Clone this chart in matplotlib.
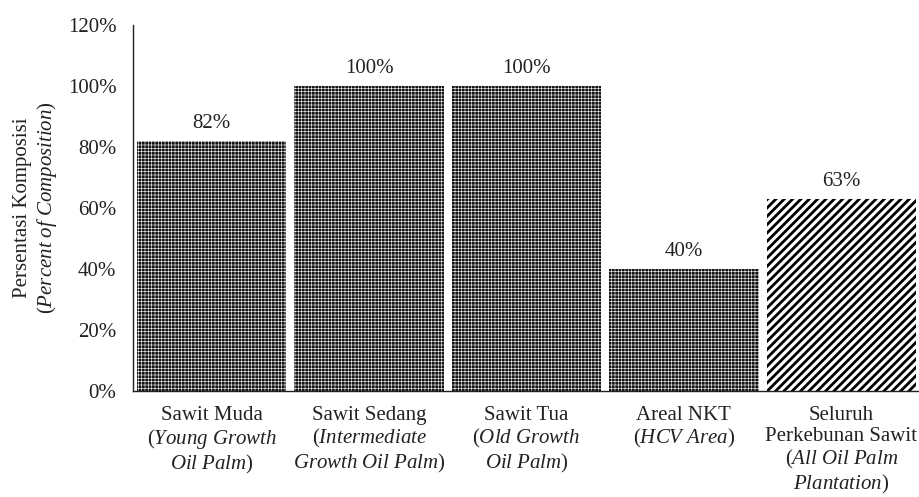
import matplotlib
matplotlib.use("Agg")
import matplotlib.pyplot as plt
from matplotlib.ticker import FuncFormatter

# ---------- Config ----------
plt.rcParams["font.family"] = ["Liberation Serif", "DejaVu Serif"]
plt.rcParams["font.size"] = 15
plt.rcParams["mathtext.fontset"] = "custom"
plt.rcParams["mathtext.rm"] = "Liberation Serif"
plt.rcParams["mathtext.it"] = "Liberation Serif:italic"
plt.rcParams["hatch.linewidth"] = 0.4

# ---------- Data ----------
categories = [
    "Sawit Muda\n($\\mathit{Young\\ Growth}$\n$\\mathit{Oil\\ Palm}$)",
    "Sawit Sedang\n($\\mathit{Intermediate}$\n$\\mathit{Growth\\ Oil\\ Palm}$)",
    "Sawit Tua\n($\\mathit{Old\\ Growth}$\n$\\mathit{Oil\\ Palm}$)",
    "Areal NKT\n($\\mathit{HCV\\ Area}$)",
    "Seluruh\nPerkebunan Sawit\n($\\mathit{All\\ Oil\\ Palm}$\n$\\mathit{Plantation}$)",
]
composition = [0.82, 1.00, 1.00, 0.40, 0.63]
value_labels = ["82%", "100%", "100%", "40%", "63%"]
y_ticks = [0.0, 0.2, 0.4, 0.6, 0.8, 1.0, 1.2]

# dark dotted fill for the first four bars, diagonal stripes for the total
face_colors = ["#141414", "#141414", "#141414", "#141414", "white"]
hatch_colors = ["white", "white", "white", "white", "black"]
hatches = ["+++++", "+++++", "+++++", "+++++", "////"]
hatch_widths = [0.4, 0.4, 0.4, 0.4, 2.0]

# ---------- Plot ----------
fig = plt.figure(figsize=(9.2, 4.97), dpi=100)
ax = fig.add_axes([133 / 920, 106 / 497, 787 / 920, 366 / 497])

x = list(range(len(categories)))
bars = ax.bar(x, composition, width=0.95, color=face_colors,
              edgecolor=hatch_colors, linewidth=0)
for b, h, lw in zip(bars, hatches, hatch_widths):
    b.set_hatch(h)
    if hasattr(b, "set_hatch_linewidth"):
        b.set_hatch_linewidth(lw)

ax.bar_label(bars, labels=value_labels, padding=6, fontsize=15, color="#222222")

# ---------- Axes ----------
ax.set_xlim(-0.5, len(categories) - 0.5)
ax.set_ylim(0, 1.2)
ax.set_yticks(y_ticks)
ax.yaxis.set_major_formatter(FuncFormatter(lambda v, _: f"{v * 100:.0f}%"))
ax.set_xticks(x)
ax.set_xticklabels(categories, fontsize=15, color="#222222", linespacing=1.12)
ax.tick_params(axis="y", length=0, pad=12, labelsize=15, labelcolor="#222222")
ax.tick_params(axis="x", length=0, pad=11)

for side in ("top", "right"):
    ax.spines[side].set_visible(False)
for side in ("left", "bottom"):
    ax.spines[side].set_color("#222222")
    ax.spines[side].set_linewidth(1.0)

ax.set_ylabel("Persentasi Komposisi\n($\\mathit{Percent\\ of\\ Composition}$)",
              fontsize=15, color="#222222", labelpad=6, linespacing=1.2)

fig.savefig("out.png", dpi=100)
plt.close(fig)
